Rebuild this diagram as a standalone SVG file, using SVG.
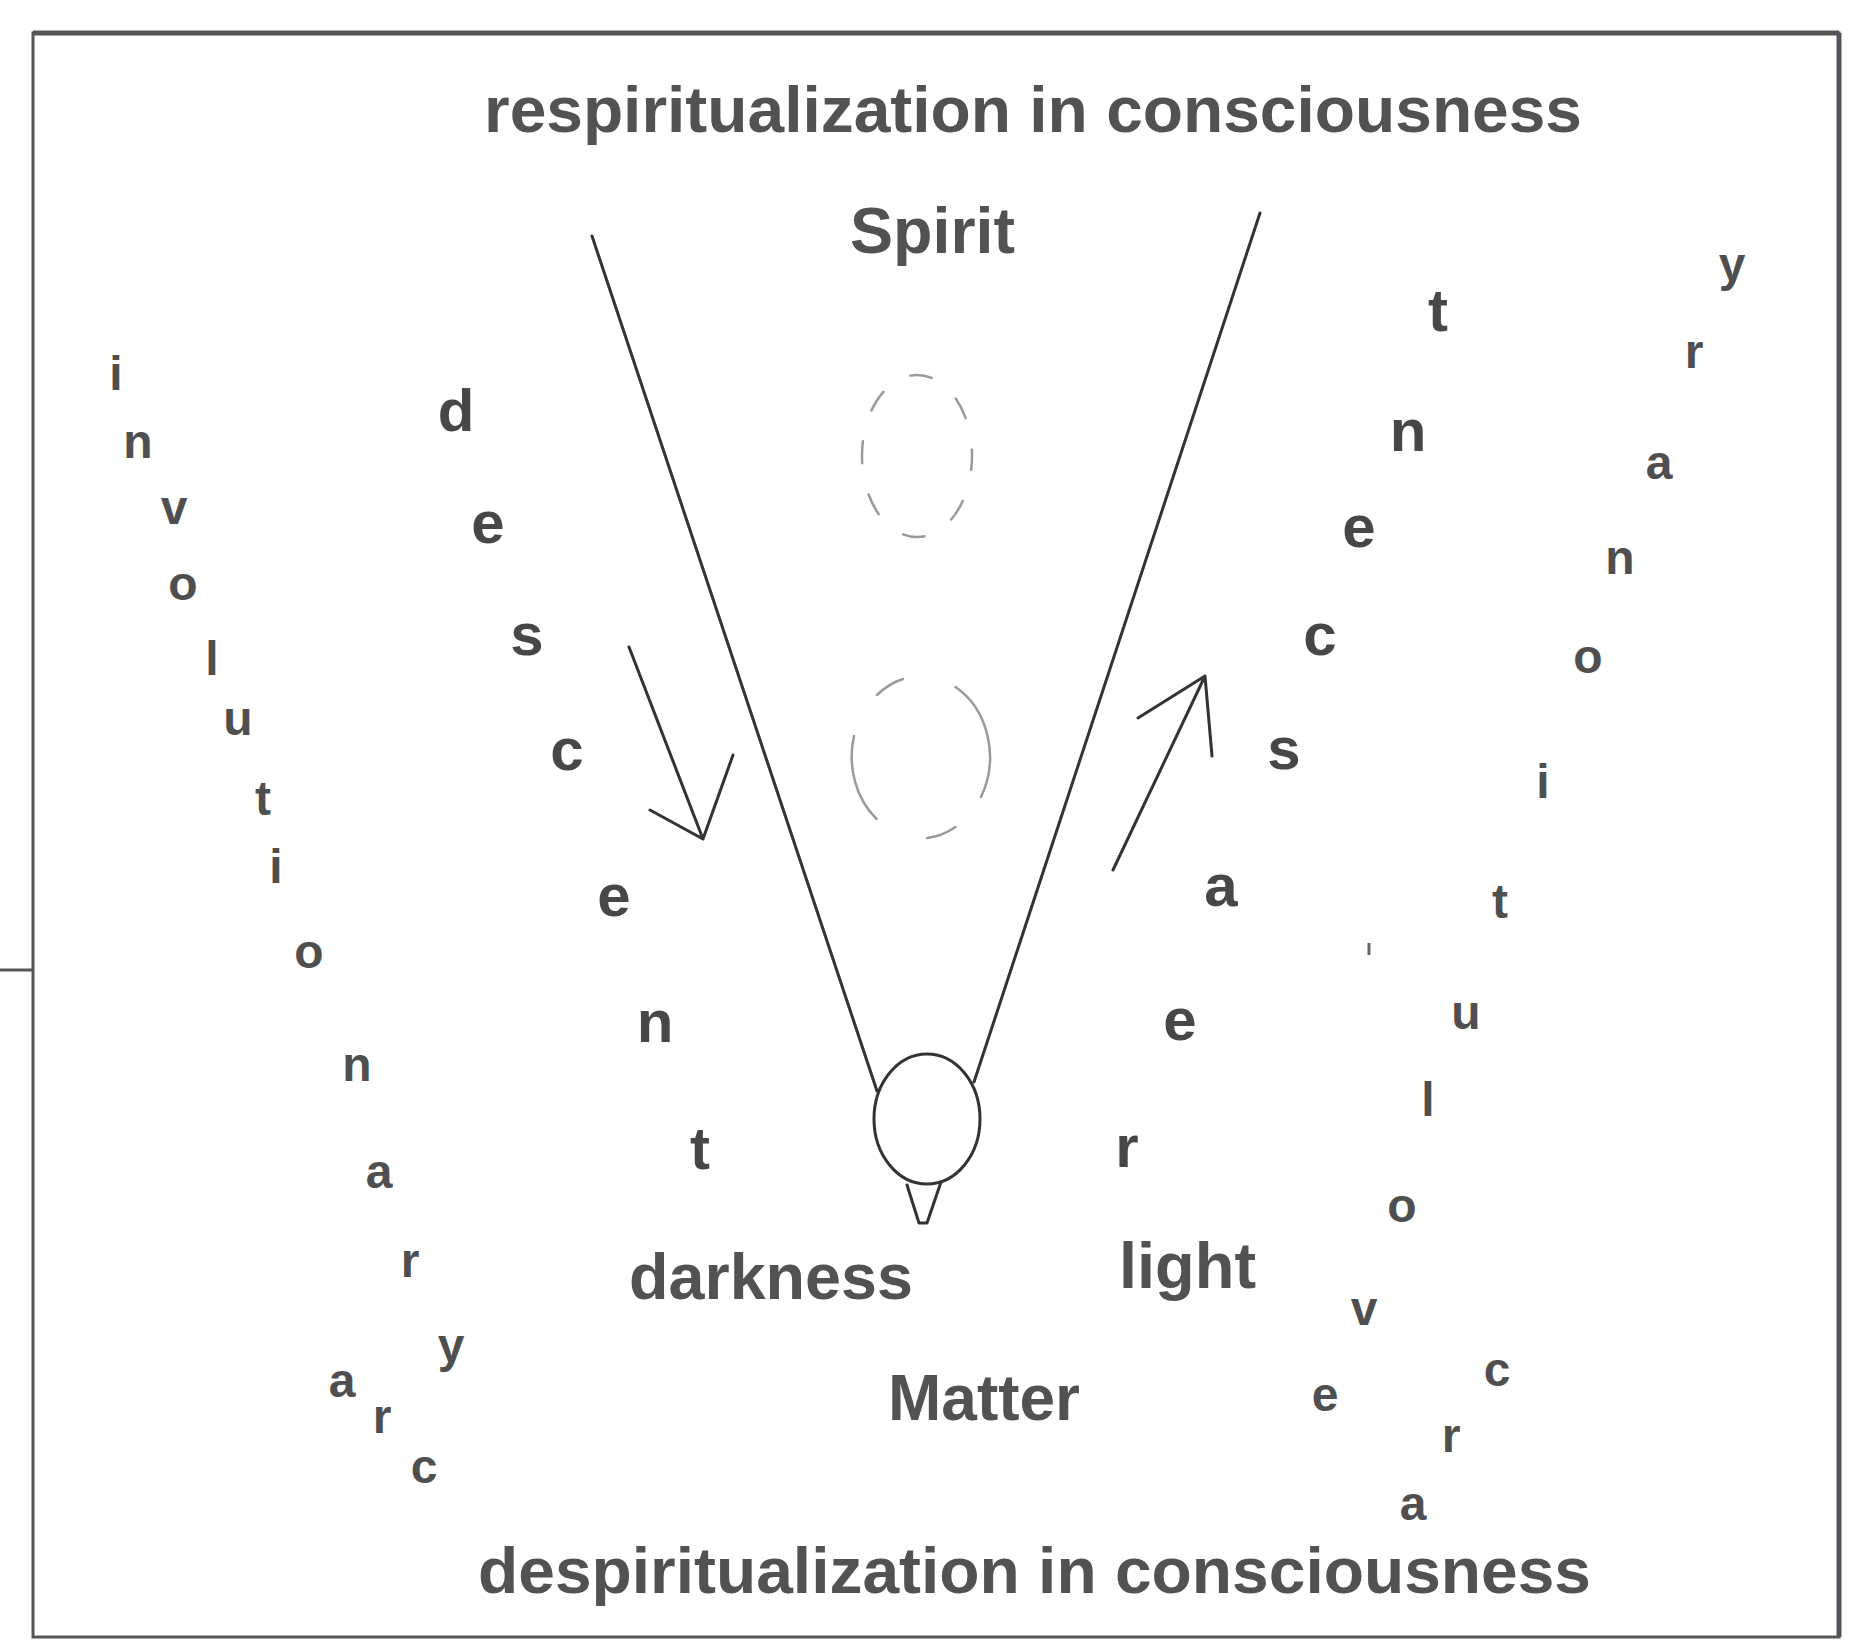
<svg xmlns="http://www.w3.org/2000/svg" width="1851" height="1641" viewBox="0 0 1851 1641">
<style>
.lbl{font-family:"Liberation Sans",Arial,sans-serif;font-weight:bold;font-size:64px;fill:#525252}
.in{font-family:"Liberation Sans",Arial,sans-serif;font-weight:bold;font-size:60px;fill:#474747;text-anchor:middle}
.out{font-family:"Liberation Sans",Arial,sans-serif;font-weight:bold;font-size:48px;fill:#4f4f4f;text-anchor:middle}
.ln{stroke:#333;stroke-width:3;fill:none;stroke-linecap:round;stroke-linejoin:round}
.dash{stroke:#9a9a9a;stroke-width:2.5;fill:none;stroke-linecap:round}
</style>
<rect width="1851" height="1641" fill="#fff"/>
<g id="frame">
<rect x="33" y="33" width="1806" height="1604" fill="none" stroke="#555" stroke-width="3"/>
<line x1="33" y1="33" x2="1839" y2="33" stroke="#555" stroke-width="5"/>
<line x1="1839" y1="33" x2="1839" y2="1637" stroke="#5a5060" stroke-width="5"/>
<line x1="0" y1="970" x2="33" y2="970" stroke="#555" stroke-width="3"/>
</g>
<g id="connectors">
<line class="ln" x1="592" y1="236" x2="877" y2="1091"/>
<line class="ln" x1="1260" y1="213" x2="974" y2="1082"/>
<path class="ln" d="M629,647 L703,839 M650,810 L703,839 L733,755"/>
<path class="ln" d="M1113,870 L1205,676 M1138,718 L1205,676 L1212,756"/>
</g>
<g id="matter-node">
<ellipse class="ln" cx="927" cy="1119" rx="53" ry="65"/>
<path class="ln" d="M907,1185 L919,1223 L927,1223 L941,1182"/>
</g>
<g id="ellipse-upper">
<ellipse class="dash" cx="917" cy="456" rx="55" ry="81" stroke-dasharray="22 32" stroke-dashoffset="8"/>
</g>
<g id="ellipse-lower">
<path class="dash" d="M877,695 A69 81 0 0 1 903,679"/>
<path class="dash" d="M955.5,687 A69 81 0 0 1 981,797"/>
<path class="dash" d="M955.5,827 A69 81 0 0 1 927,838"/>
<path class="dash" d="M876.6,819 A69 81 0 0 1 854,736"/>
</g>
<g id="tick"><line x1="1369" y1="943" x2="1369" y2="955" stroke="#666" stroke-width="3"/></g>
<g id="labels">
<text class="lbl" x="484" y="132" textLength="1098" lengthAdjust="spacingAndGlyphs">respiritualization in consciousness</text>
<text class="lbl" x="850" y="253" textLength="165" lengthAdjust="spacingAndGlyphs">Spirit</text>
<text class="lbl" x="629" y="1299" textLength="284" lengthAdjust="spacingAndGlyphs">darkness</text>
<text class="lbl" x="1119" y="1288" textLength="137" lengthAdjust="spacingAndGlyphs">light</text>
<text class="lbl" x="888" y="1420" textLength="192" lengthAdjust="spacingAndGlyphs">Matter</text>
<text class="lbl" x="478" y="1593" textLength="1113" lengthAdjust="spacingAndGlyphs">despiritualization in consciousness</text>
</g>
<g id="involutionary-arc">
<text class="out" x="116" y="390">i</text>
<text class="out" x="138" y="458">n</text>
<text class="out" x="174" y="524">v</text>
<text class="out" x="183" y="600">o</text>
<text class="out" x="212" y="675">l</text>
<text class="out" x="238" y="735">u</text>
<text class="out" x="263" y="815">t</text>
<text class="out" x="276" y="883">i</text>
<text class="out" x="309" y="968">o</text>
<text class="out" x="357" y="1081">n</text>
<text class="out" x="379" y="1188">a</text>
<text class="out" x="410" y="1277">r</text>
<text class="out" x="451" y="1362">y</text>
<text class="out" x="342" y="1397">a</text>
<text class="out" x="382" y="1433">r</text>
<text class="out" x="424" y="1483">c</text>
</g>
<g id="descent">
<text class="in" x="456" y="431">d</text>
<text class="in" x="488" y="543">e</text>
<text class="in" x="527" y="655">s</text>
<text class="in" x="567" y="770">c</text>
<text class="in" x="614" y="916">e</text>
<text class="in" x="655" y="1042">n</text>
<text class="in" x="700" y="1169">t</text>
</g>
<g id="reascent">
<text class="in" x="1127" y="1167">r</text>
<text class="in" x="1180" y="1040">e</text>
<text class="in" x="1221" y="906">a</text>
<text class="in" x="1284" y="769">s</text>
<text class="in" x="1320" y="655">c</text>
<text class="in" x="1359" y="547">e</text>
<text class="in" x="1408" y="451">n</text>
<text class="in" x="1438" y="331">t</text>
</g>
<g id="evolutionary-arc">
<text class="out" x="1325" y="1411">e</text>
<text class="out" x="1364" y="1325">v</text>
<text class="out" x="1402" y="1222">o</text>
<text class="out" x="1428" y="1116">l</text>
<text class="out" x="1466" y="1029">u</text>
<text class="out" x="1500" y="918">t</text>
<text class="out" x="1543" y="798">i</text>
<text class="out" x="1588" y="673">o</text>
<text class="out" x="1620" y="574">n</text>
<text class="out" x="1659" y="479">a</text>
<text class="out" x="1694" y="368">r</text>
<text class="out" x="1732" y="281">y</text>
<text class="out" x="1413" y="1520">a</text>
<text class="out" x="1451" y="1452">r</text>
<text class="out" x="1497" y="1386">c</text>
</g>
</svg>
